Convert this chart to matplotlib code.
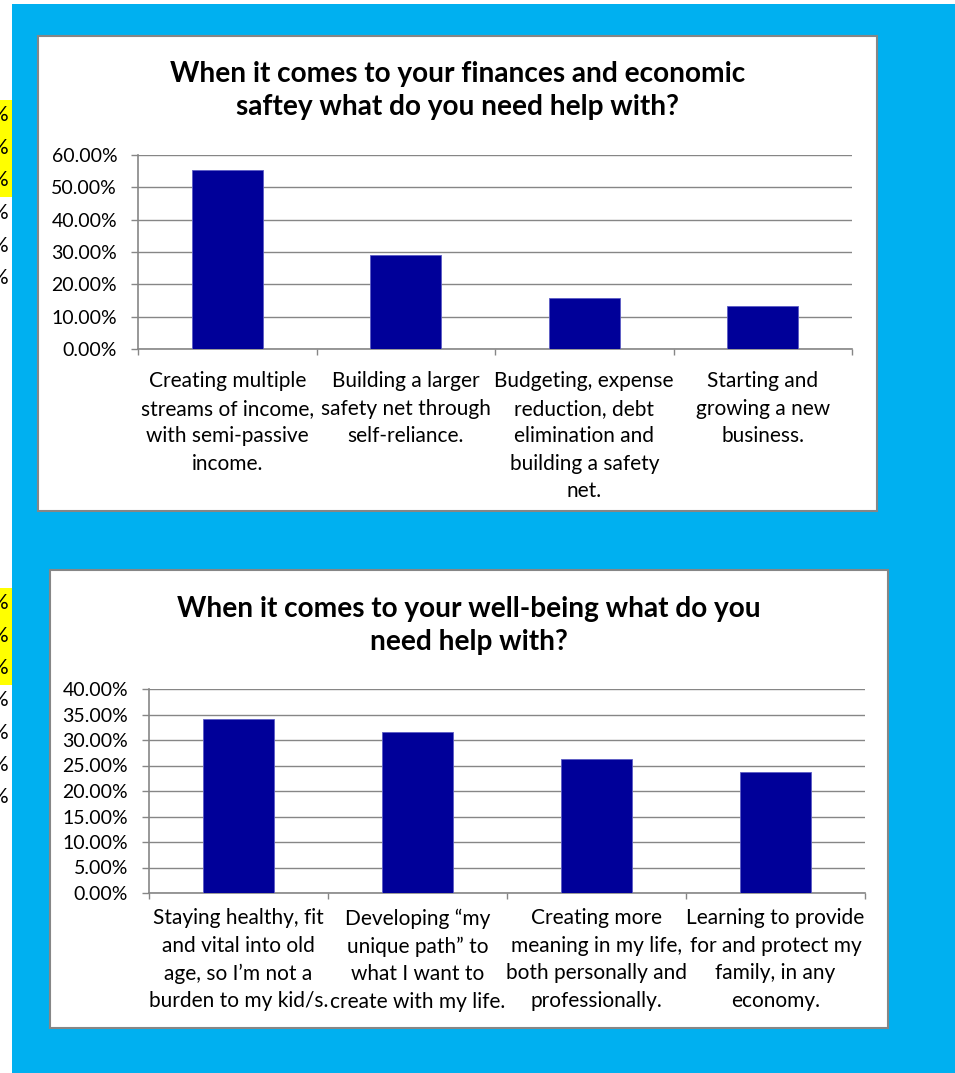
import matplotlib
matplotlib.use("Agg")
import matplotlib.pyplot as plt
from matplotlib.patches import Rectangle
from matplotlib.ticker import PercentFormatter, FixedLocator

plt.rcParams['font.family'] = ['Lato', 'DejaVu Sans']

# ── survey data ──────────────────────────────────────
finance_title = "When it comes to your finances and economic\nsaftey what do you need help with?"
finance_labels = [
    "Creating multiple\nstreams of income,\nwith semi-passive\nincome.",
    "Building a larger\nsafety net through\nself-reliance.",
    "Budgeting, expense\nreduction, debt\nelimination and\nbuilding a safety\nnet.",
    "Starting and\ngrowing a new\nbusiness.",
]
finance_pct = [55.26, 28.95, 15.79, 13.16]
finance_yticks = [0, 10, 20, 30, 40, 50, 60]

wellbeing_title = "When it comes to your well-being what do you\nneed help with?"
wellbeing_labels = [
    "Staying healthy, fit\nand vital into old\nage, so I\u2019m not a\nburden to my kid/s.",
    "Developing \u201cmy\nunique path\u201d to\nwhat I want to\ncreate with my life.",
    "Creating more\nmeaning in my life,\nboth personally and\nprofessionally.",
    "Learning to provide\nfor and protect my\nfamily, in any\neconomy.",
]
wellbeing_pct = [34.21, 31.58, 26.32, 23.68]
wellbeing_yticks = [0, 5, 10, 15, 20, 25, 30, 35, 40]

# ── page setup (pixel based layout) ─────────────────
W, H = 955, 1073
BLUE = "#00b0f0"
BAR = "#000099"
GRAY = "#868686"
TICK_FS = 14
LABEL_FS = 15

fig = plt.figure(figsize=(W / 100, H / 100), dpi=100)
fig.patch.set_facecolor("white")


def rect_px(x0, y0, x1, y1, **kw):
    fig.patches.append(Rectangle((x0 / W, 1 - y1 / H), (x1 - x0) / W, (y1 - y0) / H,
                                 transform=fig.transFigure, figure=fig, **kw))


def axes_px(x0, y0, x1, y1):
    return fig.add_axes([x0 / W, 1 - y1 / H, (x1 - x0) / W, (y1 - y0) / H])


# blue page background and cut-off spreadsheet column on the left
rect_px(12, 4, W, H, facecolor=BLUE, edgecolor="none", zorder=0)
rect_px(0, 100, 12, 197, facecolor="#ffff00", edgecolor="none", zorder=0)
rect_px(0, 588, 12, 685, facecolor="#ffff00", edgecolor="none", zorder=0)
for y in [115, 148, 180, 213, 246, 278, 603, 636, 668, 700, 733, 765, 797]:
    fig.text(8 / W, 1 - y / H, "%", ha="right", va="center", fontsize=15, zorder=1)


def draw_chart(box, plot, title, title_y, labels, values, yticks, xpad):
    bx0, by0, bx1, by1 = box
    rect_px(bx0, by0, bx1, by1, facecolor="white", edgecolor=GRAY, linewidth=1.5, zorder=1)
    fig.text((bx0 + bx1) / 2 / W, 1 - title_y / H, title, ha="center", va="center",
             fontsize=20.2, fontweight="bold", linespacing=1.38, zorder=3)

    ax = axes_px(*plot)
    ax.set_zorder(2)
    ax.patch.set_alpha(0)
    x = range(len(values))
    ax.bar(x, values, width=0.4, color=BAR, edgecolor="#5c5cc4", linewidth=0.6, zorder=3)

    ax.set_xlim(-0.5, len(values) - 0.5)
    ax.set_ylim(yticks[0], yticks[-1])
    ax.set_yticks(yticks)
    ax.yaxis.set_major_formatter(PercentFormatter(xmax=100, decimals=2))
    ax.set_xticks(list(x))
    ax.set_xticklabels(labels, linespacing=1.47)
    ax.xaxis.set_minor_locator(FixedLocator([i - 0.5 for i in range(len(values) + 1)]))

    ax.tick_params(axis="x", which="major", length=0, pad=xpad, labelsize=LABEL_FS)
    ax.tick_params(axis="x", which="minor", length=4, width=1, color=GRAY, direction="out")
    ax.tick_params(axis="y", length=5, width=1, color=GRAY, direction="out",
                   pad=10, labelsize=TICK_FS)

    ax.grid(axis="y", color=GRAY, linewidth=1)
    ax.set_axisbelow(True)
    for side in ("top", "right"):
        ax.spines[side].set_visible(False)
    for side in ("left", "bottom"):
        ax.spines[side].set_color(GRAY)
        ax.spines[side].set_linewidth(1.2)
    return ax


draw_chart((38, 36, 877, 511), (138, 155, 852, 349), finance_title, 90.5,
           finance_labels, finance_pct, finance_yticks, xpad=16)
draw_chart((50, 570, 888, 1028), (149, 689, 865, 893), wellbeing_title, 625.5,
           wellbeing_labels, wellbeing_pct, wellbeing_yticks, xpad=11)

fig.savefig("out.png", dpi=100)
